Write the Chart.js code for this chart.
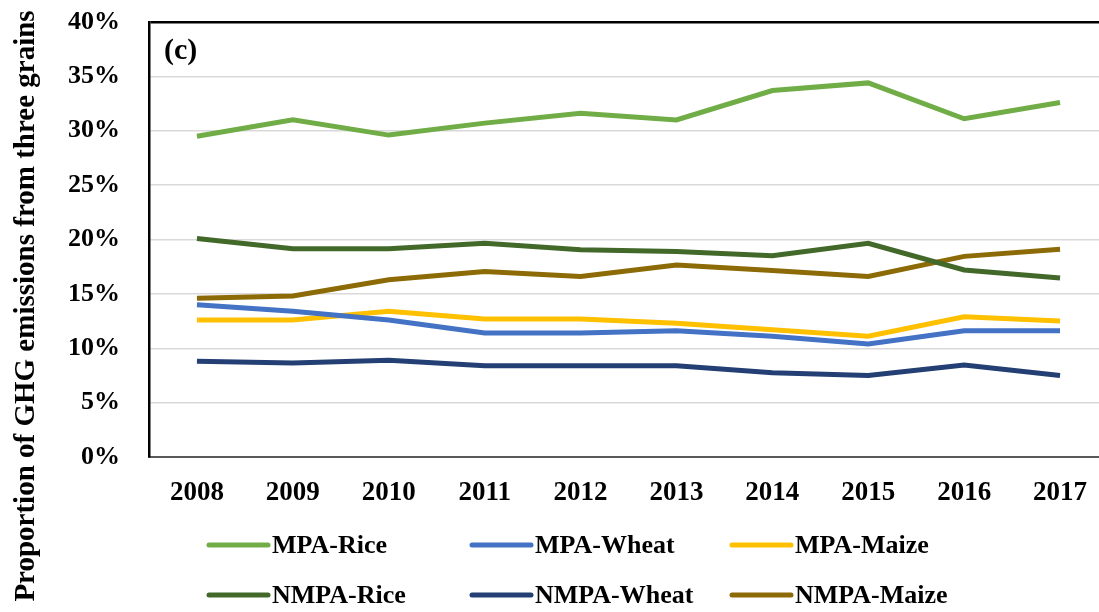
<!DOCTYPE html>
<html>
<head>
<meta charset="utf-8">
<script src="https://cdn.jsdelivr.net/npm/chart.js@4"></script>
<style>
  html, body { margin: 0; padding: 0; background: #fff; overflow: hidden; }
  #wrap { width: 1110px; height: 612px; }
</style>
</head>
<body>
<div id="wrap"><canvas id="ghgChart" width="1110" height="612"></canvas></div>
<script>
// 年次
const years = ['2008', '2009', '2010', '2011', '2012', '2013', '2014', '2015', '2016', '2017'];

// 系列名・色
const seriesNames = ['MPA-Rice', 'MPA-Wheat', 'MPA-Maize', 'NMPA-Rice', 'NMPA-Wheat', 'NMPA-Maize'];
const seriesColors = ['#70AD47', '#4472C4', '#FFC000', '#43692A', '#233F73', '#8C6A05'];

// 値 (%)
const mpaRice   = [29.5, 31.0, 29.6, 30.7, 31.6, 31.0, 33.7, 34.4, 31.1, 32.6];
const mpaWheat  = [14.0, 13.4, 12.6, 11.4, 11.4, 11.6, 11.1, 10.4, 11.6, 11.6];
const mpaMaize  = [12.6, 12.6, 13.4, 12.7, 12.7, 12.3, 11.7, 11.1, 12.9, 12.5];
const nmpaRice  = [20.1, 19.15, 19.15, 19.65, 19.05, 18.9, 18.5, 19.65, 17.2, 16.45];
const nmpaWheat = [8.8, 8.65, 8.9, 8.4, 8.4, 8.4, 7.75, 7.5, 8.45, 7.5];
const nmpaMaize = [14.6, 14.8, 16.3, 17.05, 16.6, 17.65, 17.15, 16.6, 18.45, 19.1];

const seriesValues = [mpaRice, mpaWheat, mpaMaize, nmpaRice, nmpaWheat, nmpaMaize];

const yTicks = { min: 0, max: 40, step: 5 };
const yTitle = 'Proportion of GHG emissions from three grains';
const panelLabel = '(c)';

const serif = "'Liberation Serif', 'Times New Roman', serif";

/**
 * 縦軸タイトル・パネル記号・凡例を描く
 */
const decorPlugin = {
  id: 'decor',
  afterDraw(chart) {
    const ctx = chart.ctx;
    ctx.save();

    // (c)
    ctx.fillStyle = '#000';
    ctx.font = 'bold 30px ' + serif;
    ctx.textBaseline = 'middle';
    ctx.textAlign = 'left';
    ctx.fillText(panelLabel, 164, 51);

    // 縦軸タイトル
    ctx.save();
    ctx.translate(34, 306);
    ctx.rotate(-Math.PI / 2);
    ctx.font = 'bold 29px ' + serif;
    ctx.textAlign = 'center';
    ctx.textBaseline = 'alphabetic';
    ctx.fillText(yTitle, 0, 0);
    ctx.restore();

    // 凡例（3列×2行）
    const colX = [207, 470, 730];
    const rowY = [545, 595];
    const swatch = 63;
    ctx.font = 'bold 26px ' + serif;
    ctx.textBaseline = 'middle';
    ctx.lineCap = 'round';
    chart.data.datasets.forEach((ds, i) => {
      const x = colX[i % 3];
      const y = rowY[Math.floor(i / 3)];
      ctx.strokeStyle = ds.borderColor;
      ctx.lineWidth = 5;
      ctx.beginPath();
      ctx.moveTo(x + 2, y);
      ctx.lineTo(x + swatch - 2, y);
      ctx.stroke();
      ctx.fillStyle = '#000';
      ctx.fillText(ds.label, x + swatch + 2, y + 1);
    });

    ctx.restore();
  }
};

const ctx = document.getElementById('ghgChart').getContext('2d');
new Chart(ctx, {
  type: 'line',
  data: {
    labels: years,
    datasets: seriesNames.map((name, i) => ({
      label: name,
      data: seriesValues[i],
      borderColor: seriesColors[i],
      backgroundColor: seriesColors[i],
      borderWidth: 5,
      pointRadius: 0,
      tension: 0,
      fill: false
    }))
  },
  options: {
    responsive: false,
    animation: false,
    layout: { padding: { left: 0, top: 22, right: 2, bottom: 0 } },
    plugins: {
      legend: { display: false },
      tooltip: { enabled: false }
    },
    scales: {
      x: {
        offset: true,
        grid: { display: false, drawTicks: false },
        border: { color: '#5a5a5a', width: 2 },
        ticks: {
          color: '#000',
          padding: 20,
          font: { family: serif, size: 27, weight: 'bold' }
        },
        afterFit(scale) { scale.height = 155; }
      },
      y: {
        min: yTicks.min,
        max: yTicks.max,
        grid: {
          drawTicks: false,
          color: c => (c.tick && c.tick.value === yTicks.max ? '#000' : '#d9d9d9'),
          lineWidth: c => (c.tick && c.tick.value === yTicks.max ? 2.5 : 1.5)
        },
        border: { color: '#000', width: 2.5 },
        ticks: {
          stepSize: yTicks.step,
          color: '#000',
          padding: 29,
          font: { family: serif, size: 26, weight: 'bold' },
          callback: v => v + '%'
        },
        afterFit(scale) {
          scale.width = 149;
          // ラベル分の上下余白は不要（上端はlayout.paddingで決める）
          scale.paddingTop = 0;
          scale.paddingBottom = 0;
        }
      }
    }
  },
  plugins: [decorPlugin]
});
</script>
</body>
</html>
